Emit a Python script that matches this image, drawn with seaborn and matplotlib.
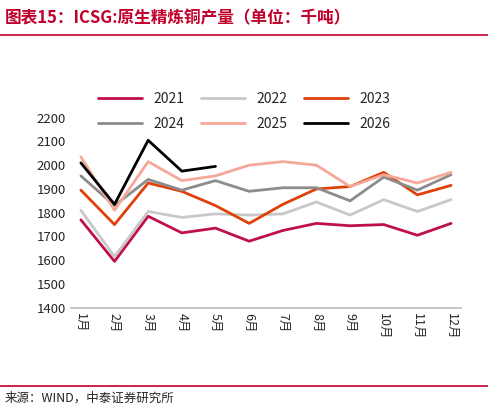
import matplotlib
matplotlib.use("Agg")
import matplotlib.pyplot as plt
import seaborn as sns
import pandas as pd

months = ["1月","2月","3月","4月","5月","6月","7月","8月","9月","10月","11月","12月"]
y2021 = [1770,1595,1785,1715,1735,1680,1725,1755,1745,1750,1705,1755]
y2022 = [1810,1615,1805,1780,1795,1790,1795,1845,1790,1855,1805,1855]
y2023 = [1895,1750,1925,1890,1830,1755,1835,1900,1910,1970,1875,1915]
y2024 = [1955,1830,1940,1895,1935,1890,1905,1905,1850,1950,1895,1960]
y2025 = [2035,1810,2015,1935,1955,2000,2015,2000,1910,1960,1925,1970]
y2026 = [2010,1835,2105,1975,1995]

series = {"2021": y2021, "2022": y2022, "2023": y2023, "2024": y2024, "2025": y2025, "2026": y2026}
colors = {"2021": "#C0104A", "2022": "#C8C8C8", "2023": "#E0400A", "2024": "#8C8C8C", "2025": "#F6A898", "2026": "#000000"}

rows = []
for k, v in series.items():
    for i, val in enumerate(v):
        rows.append({"month": months[i], "x": i, "value": val, "year": k})
df = pd.DataFrame(rows)

sns.set_theme(style="white")
plt.rcParams['font.family'] = ['Noto Sans CJK SC', 'DejaVu Sans']
fig = plt.figure(figsize=(4.88, 4.13), dpi=100)
ax = fig.add_axes([0.145, 0.255, 0.80, 0.46])
sns.lineplot(data=df, x="x", y="value", hue="year", palette=colors, linewidth=2, ax=ax, legend=False)
ax.set_ylim(1400, 2200)
ax.set_yticks(range(1400, 2201, 100))
ax.set_xlim(-0.3, 11.3)
ax.set_xticks(range(12))
ax.set_xticklabels(months, rotation=-90, fontsize=9)
ax.tick_params(axis='y', labelsize=9.5, length=0)
ax.tick_params(axis='x', length=0)
ax.set_xlabel(""); ax.set_ylabel("")
for s in ["top", "right", "left"]:
    ax.spines[s].set_visible(False)
ax.spines["bottom"].set_color("#BFBFBF")

from matplotlib.lines import Line2D
names = ["2021", "2024", "2022", "2025", "2023", "2026"]
handles = [Line2D([0], [0], color=colors[n], lw=2) for n in names]
fig.legend(handles, names, loc="center", bbox_to_anchor=(0.5, 0.73), ncol=3, frameon=False,
           fontsize=10, handlelength=3.2, columnspacing=1.2, borderaxespad=0, labelspacing=0.8)

fig.text(0.01, 0.955, "图表15：ICSG:原生精炼铜产量（单位：千吨）", color="#C0002A",
         fontsize=12, fontweight="bold", style="italic", va="center")
fig.add_artist(Line2D([0.0, 1.0], [0.915, 0.915], color="#C0002A", lw=1.2))
fig.add_artist(Line2D([0.0, 1.0], [0.065, 0.065], color="#C0002A", lw=1.2))
fig.text(0.01, 0.035, "来源：WIND，中泰证券研究所", fontsize=9, va="center")
fig.savefig("out.png", dpi=100)
